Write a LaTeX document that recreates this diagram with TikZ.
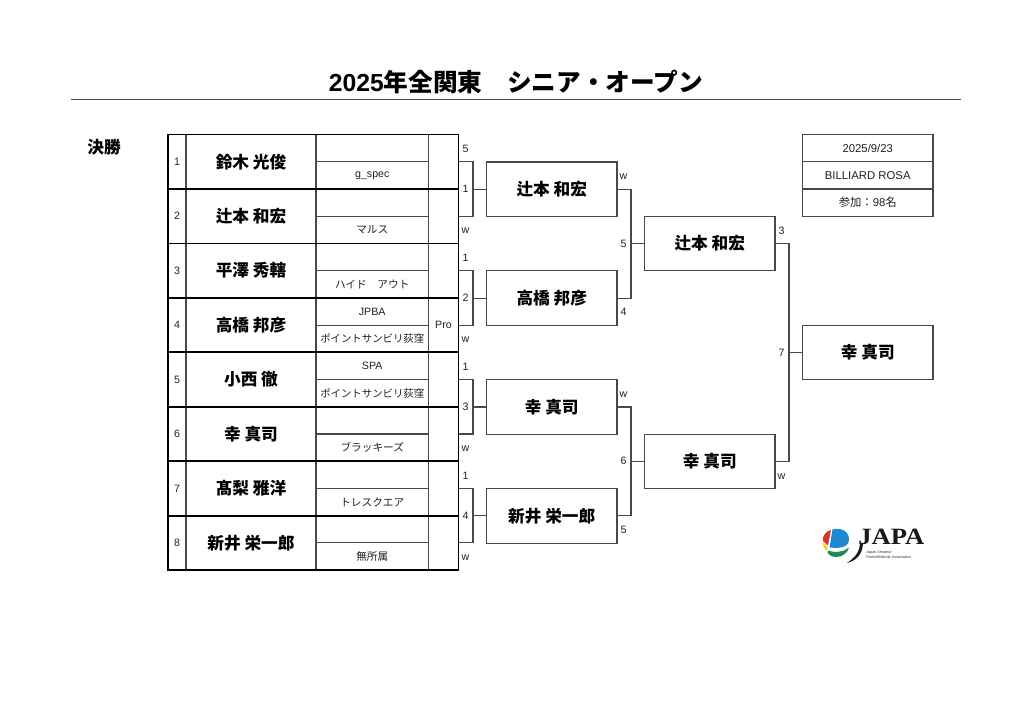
\documentclass[tikz,border=0pt]{standalone}
\usepackage{fontspec}
\setmainfont{Liberation Sans}
\newfontfamily\cj{Noto Sans CJK JP}
\newfontfamily\logofont{Liberation Serif}
\definecolor{ln}{HTML}{484848}
\definecolor{tx}{HTML}{222222}
\definecolor{lgblue}{HTML}{1E88D2}
\definecolor{lgred}{HTML}{D8352A}
\definecolor{lgyel}{HTML}{F2D21B}
\definecolor{lggrn}{HTML}{1E8A5A}
\tikzset{
  cell/.style={draw=ln,line width=0.8pt,inner sep=0pt,outer sep=0pt,anchor=center},
  small/.style={font=\fontsize{8}{9}\selectfont,text=tx,inner sep=0pt},
  lab/.style={font=\fontsize{8}{9}\selectfont,text=tx,inner sep=0pt},
  namet/.style={font=\fontsize{12.5}{14}\selectfont\bfseries\cj,text=black},
  bigbox/.style={cell,minimum width=97.9pt,minimum height=40.8pt,namet},
  infobox/.style={cell,minimum width=97.9pt,minimum height=20.42pt,inner sep=0pt,text=tx,font=\fontsize{8.5}{9}\selectfont},
  wire/.style={draw=ln,line width=0.8pt},
  heavy/.style={draw=black,line width=1.3pt},
}
\begin{document}
\begin{tikzpicture}[x=0.75pt,y=-0.75pt]
\useasboundingbox (0,0) rectangle (1024,726);
\fill[white] (0,0) rectangle (1024,726);
% title
\node (title) at (516,82) {\fontsize{18.5}{20}\selectfont\bfseries 2025{\cj 年全関東　シニア・オープン}};
\coordinate (ruleL) at (71,99); \coordinate (ruleR) at (961,99);
\draw[draw=ln,line width=0.7pt] (ruleL) -- (ruleR);
\node (round) at (104,147) {\fontsize{12.5}{14}\selectfont\bfseries\cj 決勝};
% table rows
\foreach \i/\nm/\tp/\bt/\pr in {
 1/鈴木\ 光俊//g\_spec/,
 2/辻本\ 和宏//{\cj マルス}/,
 3/平澤\ 秀轄//{\cj ハイド　アウト}/,
 4/高橋\ 邦彦/JPBA/{\fontsize{7.8}{9}\selectfont\cj ポイントサンビリ荻窪}/Pro,
 5/小西\ 徹/SPA/{\fontsize{7.8}{9}\selectfont\cj ポイントサンビリ荻窪}/,
 6/幸\ 真司//{\cj ブラッキーズ}/,
 7/髙梨\ 雅洋//{\cj トレスクエア}/,
 8/新井\ 栄一郎//{\cj 無所属}/}{
  \pgfmathsetmacro{\yc}{134.5+54.45*(\i-0.5)}
  \node[cell,minimum width=13.5pt,minimum height=40.84pt,lab] (num\i) at (177,\yc) {\i};
  \node[cell,minimum width=97.5pt,minimum height=40.84pt,namet] (name\i) at (251,\yc) {\nm};
  \node[cell,minimum width=84.4pt,minimum height=20.42pt,small] (top\i) at (372.25,\yc-13.61) {\tp};
  \node[cell,minimum width=84.4pt,minimum height=20.42pt,small] (bot\i) at (372.25,\yc+13.61) {\bt};
  \node[cell,minimum width=22.5pt,minimum height=40.84pt,lab] (pro\i) at (443.5,\yc) {\pr};
}
% heavy row separators and outer border
\foreach \i in {2,...,8}{
  \draw[heavy] (num\i.north west) -- (pro\i.north east);
}
\draw[heavy] (num1.north west) rectangle (pro8.south east);
% boxes
\node[bigbox] (b1) at (551.75,189.2) {辻本\ 和宏};
\node[bigbox] (b2) at (551.75,298.1) {高橋\ 邦彦};
\node[bigbox] (b3) at (551.75,407) {幸\ 真司};
\node[bigbox] (b4) at (551.75,515.9) {新井\ 栄一郎};
\node[bigbox] (c1) at (709.75,243.65) {辻本\ 和宏};
\node[bigbox] (c2) at (709.75,461.45) {幸\ 真司};
\node[bigbox] (d1) at (867.75,352.55) {幸\ 真司};
% info box
\node[infobox] (i1) at (867.75,148.1) {2025/9/23};
\node[infobox] (i2) at (867.75,175.4) {BILLIARD ROSA};
\node[infobox] (i3) at (867.75,202.6) {{\cj 参加：}98{\cj 名}};
% junctions
\coordinate (j1) at (473,189.2); \coordinate (j2) at (473,298.1);
\coordinate (j3) at (473,407); \coordinate (j4) at (473,515.9);
\coordinate (k1) at (631,243.65); \coordinate (k2) at (631,461.45);
\coordinate (m1) at (789,352.55);
% connectors
\draw[wire] (pro1.east) -| (j1) |- (pro2.east); \draw[wire] (j1) -- (b1.west);
\draw[wire] (pro3.east) -| (j2) |- (pro4.east); \draw[wire] (j2) -- (b2.west);
\draw[wire] (pro5.east) -| (j3) |- (pro6.east); \draw[wire] (j3) -- (b3.west);
\draw[wire] (pro7.east) -| (j4) |- (pro8.east); \draw[wire] (j4) -- (b4.west);
\draw[wire] (b1.east) -| (k1) |- (b2.east); \draw[wire] (k1) -- (c1.west);
\draw[wire] (b3.east) -| (k2) |- (b4.east); \draw[wire] (k2) -- (c2.west);
\draw[wire] (c1.east) -| (m1) |- (c2.east); \draw[wire] (m1) -- (d1.west);
% score labels
\foreach \n/\x/\y/\t in {
 s1/465.5/149/5, s2/465.5/189/1, s3/465.5/230.5/w,
 s4/465.5/258/1, s5/465.5/298/2, s6/465.5/339.5/w,
 s7/465.5/367/1, s8/465.5/407/3, s9/465.5/448.5/w,
 s10/465.5/475.5/1, s11/465.5/516/4, s12/465.5/557.5/w,
 s13/623.5/176.5/w, s14/623.5/243.5/5, s15/623.5/312/4,
 s16/623.5/394.5/w, s17/623.5/461/6, s18/623.5/530/5,
 s19/781.5/231/3, s20/781.5/352.5/7, s21/781.5/476.5/w}{
  \node[lab] (\n) at (\x,\y) {\t};
}
% logo
\fill[lgblue] (832.5,529.5) .. controls (840,527) and (849,531) .. (849,539) .. controls (849,546) and (843,549) .. (829.5,547.5) -- cycle;
\fill[lgred] (831,530) -- (828,545.5) -- (823,541) .. controls (822,536) and (826,531) .. (831,530) -- cycle;
\fill[lgyel] (822.5,542) -- (827.5,546.5) -- (827,551.5) .. controls (824,549) and (823,545) .. (822.5,542) -- cycle;
\fill[lggrn] (828,550.5) .. controls (835,553) and (844,552) .. (849,547.5) .. controls (848,553) and (842,557) .. (836,557) .. controls (832,557) and (829,555) .. (827.5,553) -- cycle;
\node[inner sep=0pt,anchor=base west] (logoword) at (858,544.5) {\scalebox{1.14}[1]{\fontsize{17.5}{18}\selectfont\bfseries\logofont\color{black!90}JAPA}};
\fill[black!90] (863,543) .. controls (862.5,555) and (856,560.5) .. (847,563) .. controls (853,558.5) and (859.5,554) .. (860,543) -- cycle;
\node[inner sep=0pt,anchor=north west,text=black!80,font=\fontsize{2.8}{3}\selectfont] (logotext) at (866,550.5) {Japan Amateur};
\node[inner sep=0pt,anchor=north west,text=black!80,font=\fontsize{2.8}{3}\selectfont] (logotext2) at (866,556) {PocketBilliards Association};
\end{tikzpicture}
\end{document}
